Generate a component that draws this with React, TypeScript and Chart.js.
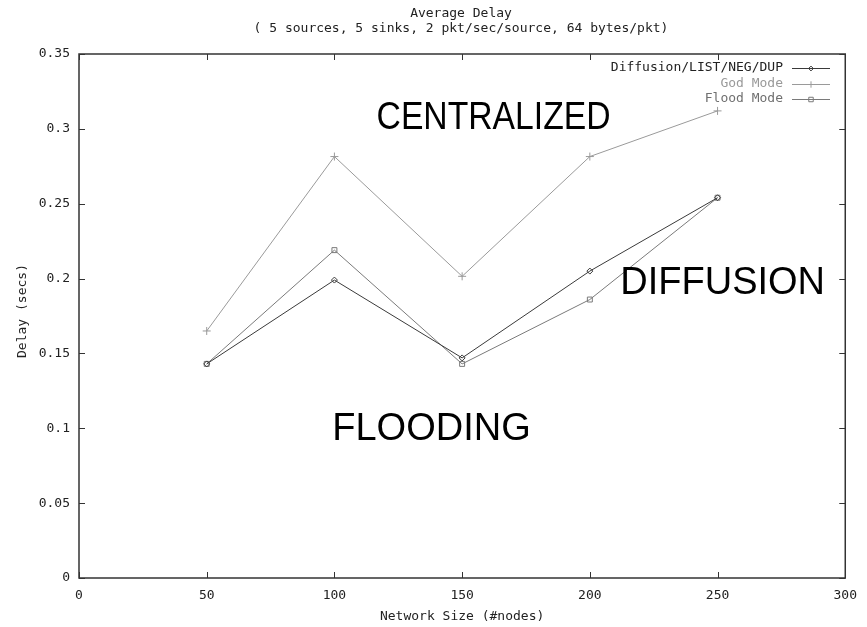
import React, { useEffect, useRef } from "react";
import { Chart, registerables } from "chart.js";

Chart.register(...registerables);

const networkSizes = [50, 100, 150, 200, 250];
const diffusionDelay = [0.143, 0.199, 0.147, 0.205, 0.254];
const godModeDelay = [0.165, 0.2815, 0.2015, 0.2815, 0.312];
const floodModeDelay = [0.143, 0.219, 0.143, 0.186, 0.254];

const seriesNames = ["Diffusion/LIST/NEG/DUP", "God Mode", "Flood Mode"];
const titleLines = ["Average Delay", "( 5 sources, 5 sinks, 2 pkt/sec/source, 64 bytes/pkt)"];
const xAxisTitle = "Network Size (#nodes)";
const yAxisTitle = "Delay (secs)";
const regionLabels = ["CENTRALIZED", "DIFFUSION", "FLOODING"];

const X_MIN = 0, X_MAX = 300, X_STEP = 50;
const Y_MIN = 0, Y_MAX = 0.35, Y_STEP = 0.05;

const MONO = '"DejaVu Sans Mono", monospace';
const colors = ["#3a3a3a", "#9a9a9a", "#7a7a7a"];
const textColors = ["#222222", "#9a9a9a", "#707070"];
const pointStyles = ["rectRot", "cross", "rect"];
const pointRadii = [3, 4, 3.5];

function drawMarker(ctx: CanvasRenderingContext2D, style: string, x: number, y: number, r: number) {
  ctx.beginPath();
  if (style === "rectRot") {
    ctx.moveTo(x, y - r); ctx.lineTo(x + r, y); ctx.lineTo(x, y + r); ctx.lineTo(x - r, y); ctx.closePath();
  } else if (style === "cross") {
    ctx.moveTo(x - r, y); ctx.lineTo(x + r, y); ctx.moveTo(x, y - r); ctx.lineTo(x, y + r);
  } else {
    ctx.rect(x - r * 0.8, y - r * 0.8, r * 1.6, r * 1.6);
  }
  ctx.stroke();
}

const overlayPlugin = {
  id: "overlay",
  afterDraw(chart: any) {
    const { ctx, chartArea, scales } = chart;
    const { left, right, top, bottom } = chartArea;
    const xs = scales.x, ys = scales.y;
    ctx.save();
    ctx.strokeStyle = "#333";
    ctx.lineWidth = 1.5;
    ctx.strokeRect(left, top, right - left, bottom - top);
    ctx.lineWidth = 1;
    const tl = 6;
    for (let v = X_MIN; v <= X_MAX + 1e-9; v += X_STEP) {
      const px = Math.round(xs.getPixelForValue(v)) + 0.5;
      ctx.beginPath();
      ctx.moveTo(px, bottom); ctx.lineTo(px, bottom - tl);
      ctx.moveTo(px, top); ctx.lineTo(px, top + tl);
      ctx.stroke();
    }
    for (let v = Y_MIN; v <= Y_MAX + 1e-9; v += Y_STEP) {
      const py = Math.round(ys.getPixelForValue(v)) + 0.5;
      ctx.beginPath();
      ctx.moveTo(left, py); ctx.lineTo(left + tl, py);
      ctx.moveTo(right, py); ctx.lineTo(right - tl, py);
      ctx.stroke();
    }
    ctx.fillStyle = "#222";
    ctx.font = `13px ${MONO}`;
    ctx.textAlign = "center";
    ctx.textBaseline = "middle";
    ctx.fillText(titleLines[0], 461, 14);
    ctx.fillText(titleLines[1], 461, 29);
    ctx.fillText(xAxisTitle, (left + right) / 2, 617);
    ctx.save();
    ctx.translate(23, 311);
    ctx.rotate(-Math.PI / 2);
    ctx.fillText(yAxisTitle, 0, 0);
    ctx.restore();
    const legendTextRight = 783;
    const lineStart = 792, lineEnd = 830;
    seriesNames.forEach((name, i) => {
      const ly = 68 + i * 15.5;
      ctx.fillStyle = textColors[i];
      ctx.textAlign = "right";
      ctx.fillText(name, legendTextRight, ly);
      ctx.strokeStyle = colors[i];
      ctx.lineWidth = 1;
      ctx.beginPath();
      ctx.moveTo(lineStart, Math.round(ly) + 0.5);
      ctx.lineTo(lineEnd, Math.round(ly) + 0.5);
      ctx.stroke();
      drawMarker(ctx, pointStyles[i], (lineStart + lineEnd) / 2, Math.round(ly) + 0.5, pointRadii[i] * 0.8);
    });
    const regionPos = [
      [162.3, 0.3],
      [252, 0.19],
      [138, 0.092],
    ];
    const regionWidths = [234, 213, 205];
    ctx.fillStyle = "#000";
    ctx.font = '38px "Liberation Sans", Arial, sans-serif';
    ctx.textAlign = "center";
    ctx.textBaseline = "alphabetic";
    regionLabels.forEach((t, i) => {
      ctx.fillText(t, xs.getPixelForValue(regionPos[i][0]), ys.getPixelForValue(regionPos[i][1]), regionWidths[i]);
    });
    ctx.restore();
  },
};

export default function App() {
  const canvasRef = useRef<HTMLCanvasElement | null>(null);

  useEffect(() => {
    document.body.style.margin = "0";
    const canvas = canvasRef.current;
    if (!canvas) return;
    const seriesValues = [diffusionDelay, godModeDelay, floodModeDelay];
    const chart = new Chart(canvas, {
      type: "line",
      data: {
        datasets: seriesValues.map((vals, i) => ({
          label: seriesNames[i],
          data: networkSizes.map((x, j) => ({ x, y: vals[j] })),
          borderColor: colors[i],
          backgroundColor: "rgba(0,0,0,0)",
          borderWidth: 1,
          pointStyle: pointStyles[i] as any,
          pointRadius: pointRadii[i],
          pointBorderWidth: 1,
          pointBorderColor: colors[i],
          pointBackgroundColor: "rgba(0,0,0,0)",
          tension: 0,
        })),
      },
      options: {
        animation: false,
        responsive: false,
        layout: { padding: { left: 0, top: 54, right: 20, bottom: 0 } },
        plugins: {
          legend: { display: false },
          title: { display: false },
          tooltip: { enabled: false },
        },
        scales: {
          x: {
            type: "linear",
            min: X_MIN,
            max: X_MAX,
            ticks: { stepSize: X_STEP, padding: 10, color: "#222", font: { family: MONO, size: 13 }, maxRotation: 0 },
            grid: { display: false, drawTicks: false },
            border: { display: false },
            afterFit: (scale: any) => { scale.height = 49; },
          },
          y: {
            type: "linear",
            min: Y_MIN,
            max: Y_MAX,
            ticks: {
              stepSize: Y_STEP,
              padding: 9,
              color: "#222",
              font: { family: MONO, size: 13 },
              callback: (v: any) => String(parseFloat(Number(v).toFixed(2))),
            },
            grid: { display: false, drawTicks: false },
            border: { display: false },
            afterFit: (scale: any) => { scale.width = 79; },
          },
        },
      },
      plugins: [overlayPlugin],
    });
    return () => chart.destroy();
  }, []);

  return (
    <div style={{ width: 867, height: 627, background: "#fff" }}>
      <canvas ref={canvasRef} width={867} height={627} />
    </div>
  );
}
